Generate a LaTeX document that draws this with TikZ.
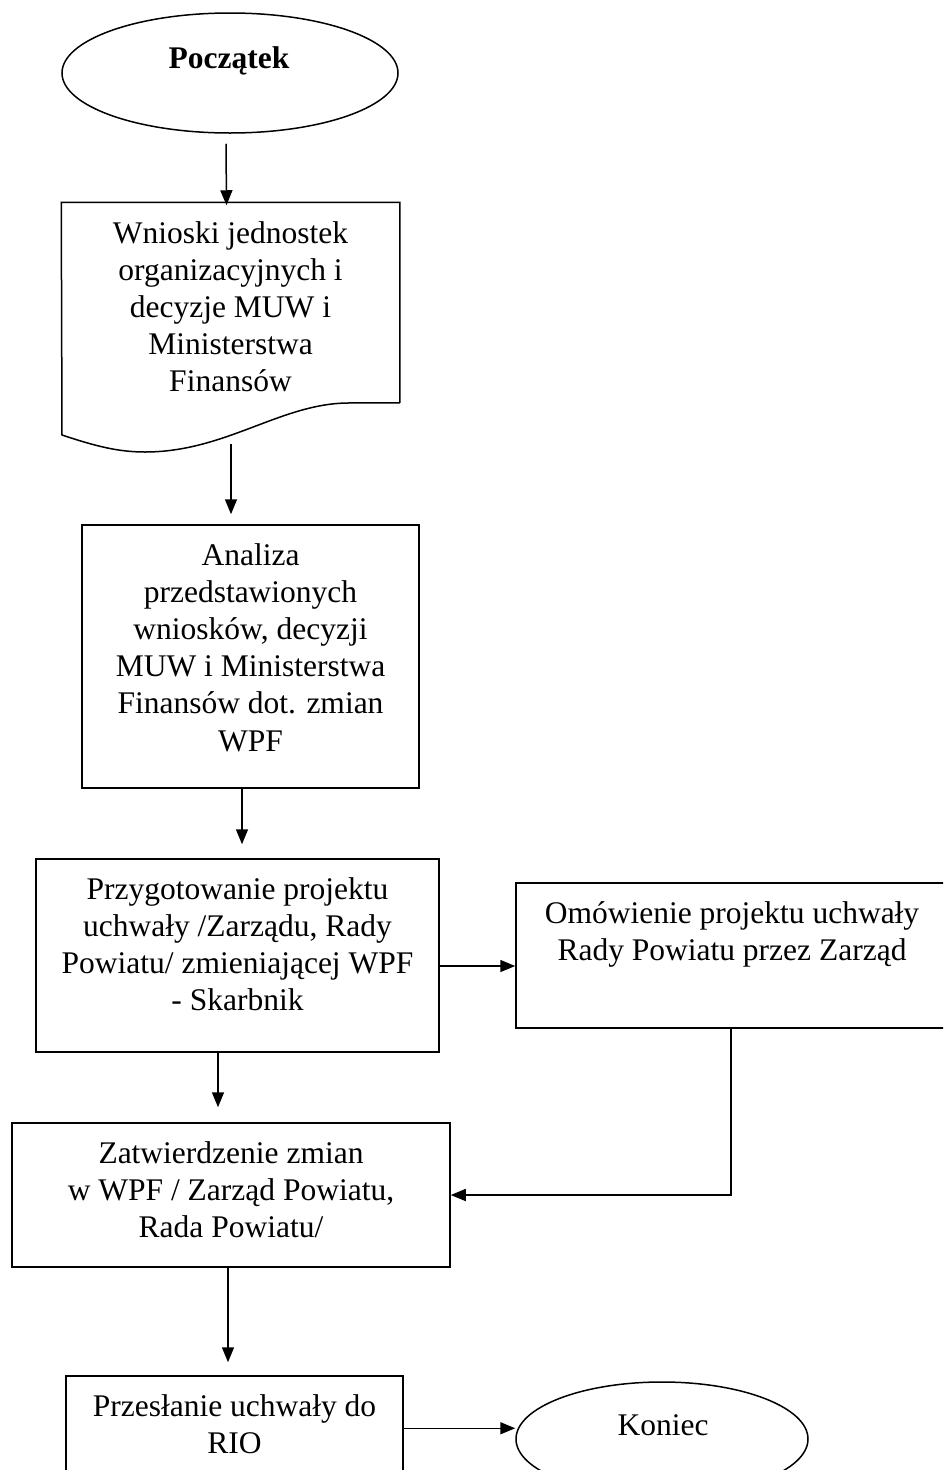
\documentclass[tikz,border=0pt]{standalone}
\usepackage{fontspec}
\setmainfont{Liberation Serif}
\usetikzlibrary{shapes.geometric,arrows.meta}
\begin{document}
\begin{tikzpicture}[x=1pt,y=-1pt,
  line width=1.5pt,
  frame/.style={draw, rectangle, inner sep=0pt},
  oval/.style={draw, ellipse, inner sep=0pt},
  words/.style={anchor=north, inner sep=0pt, align=center,
    font=\fontsize{31.5}{37.2}\selectfont},
  single/.style={anchor=base, inner sep=0pt,
    font=\fontsize{31.5}{37.2}\selectfont},
  arr/.style={-{Triangle[length=15pt,width=12pt]}},
]
\useasboundingbox (0,0) rectangle (943,1470);
\clip (0,0) rectangle (943,1470);

% start terminator
\node[oval, minimum width=336pt, minimum height=120pt] (start) at (230,73) {};
\node[single, font=\fontsize{31.5}{37.2}\selectfont\bfseries] (startText) at (229,68) {Początek};

% document shape with wavy lower edge
\node[inner sep=0pt, minimum width=337pt, minimum height=199pt] (doc) at (230.5,302.5) {};
\draw (doc.south east) -- (doc.north east) -- (doc.north west) -- (62,435)
  .. controls (95,446) and (118,452) .. (145,452)
  .. controls (225,452) and (280,404) .. (347,403) -- (doc.south east);
\coordinate (docTail) at (231,444);
\node[words] (docText) at ([yshift=-14pt]doc.north)
  {\strut Wnioski jednostek\\organizacyjnych i\\decyzje MUW i\\Ministerstwa\\Finansów};

% analysis
\node[frame, minimum width=337pt, minimum height=263pt] (ana) at (250.5,656.5) {};
\node[words] (anaText) at ([yshift=-14pt]ana.north)
  {\strut Analiza\\przedstawionych\\wniosków, decyzji\\MUW i Ministerstwa\\Finansów dot. zmian\\WPF};

% draft resolution
\node[frame, minimum width=403pt, minimum height=193pt] (prep) at (237.5,955.5) {};
\node[words] (prepText) at ([yshift=-14pt]prep.north)
  {\strut Przygotowanie projektu\\uchwały /Zarządu, Rady\\Powiatu/ zmieniającej WPF\\- Skarbnik};

% discussion by the board
\node[frame, minimum width=432pt, minimum height=145pt] (disc) at (732,955.5) {};
\node[words] (discText) at ([yshift=-14pt]disc.north)
  {\strut Omówienie projektu uchwały\\Rady Powiatu przez Zarząd};

% approval
\node[frame, minimum width=438pt, minimum height=144pt] (appr) at (231,1195) {};
\node[words] (apprText) at ([yshift=-14pt]appr.north)
  {\strut Zatwierdzenie zmian\\w WPF / Zarząd Powiatu,\\Rada Powiatu/};

% sending to RIO
\node[frame, minimum width=337pt, minimum height=160pt] (send) at (234.5,1456) {};
\node[words] (sendText) at ([yshift=-14pt]send.north)
  {\strut Przesłanie uchwały do\\RIO};

% end terminator
\node[oval, minimum width=292pt, minimum height=114pt] (finish) at (662,1439) {};
\node[single] (finishText) at (663,1435) {Koniec};

% connectors
\draw[arr] ([xshift=-4pt,yshift=-10pt]start.south) -- ([xshift=-4pt,yshift=-3pt]doc.north);
\draw[arr, shorten >=10pt] (docTail) -- (docTail |- ana.north);
\draw[arr, shorten >=14pt] ([xshift=-8.5pt]ana.south) -- ([xshift=-8.5pt]ana.south |- prep.north);
\draw[arr] ([yshift=-10.5pt]prep.east) -- ([yshift=-10.5pt]prep.east -| disc.west);
\draw[arr, shorten >=15pt] ([xshift=-19.5pt]prep.south) -- ([xshift=-19.5pt]prep.south |- appr.north);
\draw[arr] ([xshift=-1pt]disc.south) |- (appr.east);
\draw[arr, shorten >=13pt] ([xshift=-3pt]appr.south) -- ([xshift=-3pt]appr.south |- send.north);
\draw[arr] ([yshift=-53pt]send.north east) -- ([yshift=-53pt]send.north east -| finish.west);
\end{tikzpicture}
\end{document}
